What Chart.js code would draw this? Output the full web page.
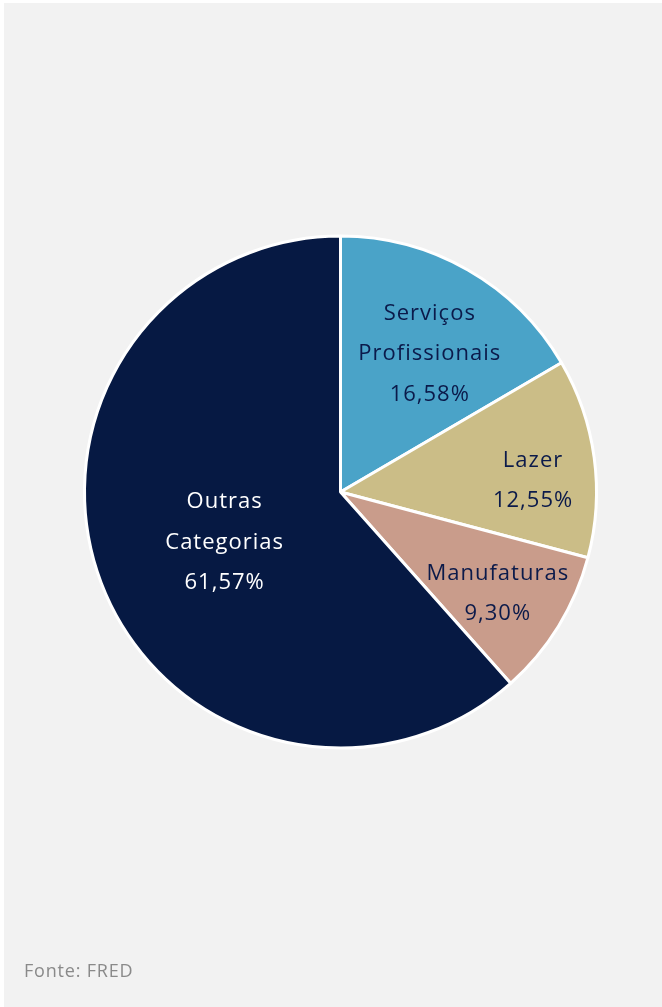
<!DOCTYPE html>
<html lang="pt-BR">
<head>
<meta charset="utf-8">
<script src="https://cdn.jsdelivr.net/npm/chart.js@4/dist/chart.umd.min.js"></script>
<style>
  html, body { margin: 0; padding: 0; background: #ffffff; }
  #panel {
    position: absolute; left: 4px; top: 3px; width: 658px; height: 1004px;
    background: #f2f2f2;
  }
  #wrap { position: absolute; left: 0; top: 0; width: 662px; height: 1007px; }
  #source {
    position: absolute; left: 24px; top: 958px;
    font-family: "Open Sans", "Noto Sans", sans-serif; font-size: 18px; color: #8a8a8a;
    letter-spacing: 0.8px;
  }
</style>
</head>
<body>
<div id="panel"></div>
<div id="wrap"><canvas id="c"></canvas></div>
<div id="source">Fonte: FRED</div>
<script>
// Composição por setor (%)
const categories = [["Serviços", "Profissionais"], ["Lazer"], ["Manufaturas"], ["Outras", "Categorias"]];
const shares = [16.58, 12.55, 9.30, 61.57];
const shareLabels = ["16,58%", "12,55%", "9,30%", "61,57%"];

const sliceColors = ["#4aa3c8", "#cbbd87", "#c99c8b", "#061943"];
const textColors = ["#0b1a4a", "#0b1a4a", "#0b1a4a", "#ffffff"];
// label anchor: fraction of radius, angular nudge (degrees)
const labelPlacement = [[0.65, 2.6], [0.754, 3.7], [0.727, 0.7], [0.49, -1.7]];

const sliceLabels = {
  id: "sliceLabels",
  afterDatasetsDraw(chart) {
    const ctx = chart.ctx;
    const meta = chart.getDatasetMeta(0);
    ctx.save();
    ctx.font = '22px "Open Sans", "Noto Sans", sans-serif';
    ctx.letterSpacing = "1px";
    ctx.textAlign = "center";
    ctx.textBaseline = "middle";
    meta.data.forEach((arc, i) => {
      const p = arc.getProps(["x", "y", "startAngle", "endAngle", "outerRadius"], true);
      const mid = (p.startAngle + p.endAngle) / 2 + labelPlacement[i][1] * Math.PI / 180;
      const d = p.outerRadius * labelPlacement[i][0];
      const cx = p.x + Math.cos(mid) * d;
      const cy = p.y + Math.sin(mid) * d + 2.5;
      const lines = categories[i].concat([shareLabels[i]]);
      const lh = 40.5;
      const top = cy - (lines.length - 1) * lh / 2;
      ctx.fillStyle = textColors[i];
      lines.forEach((t, k) => ctx.fillText(t, cx, top + k * lh));
    });
    ctx.restore();
  }
};

new Chart(document.getElementById("c"), {
  type: "pie",
  data: {
    labels: categories.map(c => c.join(" ")),
    datasets: [{
      data: shares,
      backgroundColor: sliceColors,
      borderColor: "#ffffff",
      borderWidth: 3,
      hoverOffset: 0
    }]
  },
  options: {
    responsive: true,
    maintainAspectRatio: false,
    animation: false,
    radius: 256,
    layout: { padding: { left: 19, right: 0, top: 0, bottom: 23 } },
    plugins: { legend: { display: false }, tooltip: { enabled: false } }
  },
  plugins: [sliceLabels]
});
</script>
</body>
</html>
